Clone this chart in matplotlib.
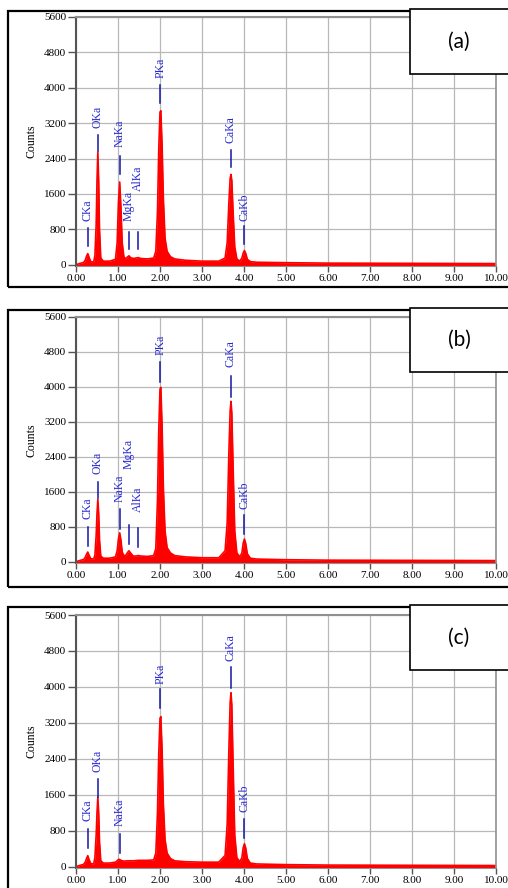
import matplotlib.pyplot as plt
from matplotlib.patches import Rectangle

# energy grid (keV) shared by the three spectra
energy = [0.00, 0.10, 0.18, 0.22, 0.25, 0.28, 0.31, 0.35, 0.42, 0.45,
          0.48, 0.50, 0.52, 0.54, 0.56, 0.59, 0.65, 0.80, 0.94, 0.98,
          1.01, 1.04, 1.07, 1.10, 1.14, 1.18, 1.22, 1.26, 1.30, 1.36,
          1.43, 1.48, 1.54, 1.70, 1.85, 1.90, 1.94, 1.97, 2.00, 2.02,
          2.05, 2.08, 2.12, 2.17, 2.25, 2.35, 2.60, 3.00, 3.40, 3.55,
          3.60, 3.64, 3.67, 3.69, 3.71, 3.74, 3.78, 3.83, 3.90, 3.95,
          3.98, 4.01, 4.04, 4.08, 4.15, 4.30, 5.00, 6.00, 8.00, 10.00]

counts_a = [0, 30, 50, 100, 190, 250, 170, 70, 60, 200,
            900, 1900, 2550, 1900, 800, 150, 80, 80, 120, 500,
            1400, 1870, 1300, 500, 180, 130, 170, 200, 160, 140,
            150, 160, 140, 130, 150, 300, 1200, 2600, 3450, 3480,
            2700, 1500, 600, 300, 180, 130, 100, 80, 80, 150,
            500, 1400, 1950, 2040, 1900, 1200, 400, 130, 80, 150,
            260, 320, 260, 120, 70, 55, 45, 35, 30, 25]

counts_b = [0, 30, 50, 100, 170, 220, 150, 70, 60, 150,
            600, 1100, 1430, 1100, 500, 130, 80, 80, 110, 250,
            520, 660, 500, 220, 140, 140, 200, 250, 200, 130,
            130, 140, 130, 120, 140, 300, 1400, 3000, 3950, 3990,
            3100, 1700, 700, 320, 200, 140, 110, 90, 90, 250,
            900, 2500, 3450, 3670, 3400, 2200, 700, 200, 110, 200,
            420, 520, 420, 180, 80, 60, 45, 35, 30, 25]

counts_c = [0, 30, 50, 100, 180, 245, 160, 70, 60, 200,
            700, 1200, 1550, 1200, 550, 130, 80, 80, 100, 130,
            160, 160, 140, 130, 125, 125, 130, 130, 130, 130,
            135, 140, 140, 140, 150, 300, 1200, 2500, 3300, 3340,
            2600, 1400, 600, 300, 180, 130, 110, 100, 100, 250,
            950, 2600, 3650, 3870, 3600, 2300, 700, 200, 110, 200,
            420, 510, 420, 180, 80, 60, 45, 35, 30, 25]

# peak labels: name, energy, marker bottom, marker top, label start
lines_a = ["CKa", "OKa", "NaKa", "MgKa", "AlKa", "PKa", "CaKa", "CaKb"]
pos_a = [0.28, 0.52, 1.04, 1.26, 1.48, 2.01, 3.69, 4.01]
lo_a = [430, 2560, 2040, 360, 360, 3660, 2200, 470]
hi_a = [830, 2940, 2450, 740, 740, 4070, 2600, 880]
txt_a = [990, 3100, 2650, 990, 1660, 4220, 2760, 990]

lines_b = ["CKa", "OKa", "NaKa", "MgKa", "AlKa", "PKa", "CaKa", "CaKb"]
pos_b = [0.28, 0.52, 1.04, 1.26, 1.48, 2.01, 3.69, 4.01]
lo_b = [365, 1450, 750, 410, 340, 4120, 3780, 640]
hi_b = [800, 1820, 1200, 840, 770, 4560, 4240, 1070]
txt_b = [980, 2000, 1370, 2120, 1140, 4740, 4450, 1200]

lines_c = ["CKa", "OKa", "NaKa", "PKa", "CaKa", "CaKb"]
pos_c = [0.28, 0.52, 1.04, 2.01, 3.69, 4.01]
lo_c = [420, 1550, 310, 3520, 3980, 640]
hi_c = [840, 1950, 730, 3960, 4450, 1060]
txt_c = [1020, 2100, 910, 4060, 4570, 1220]

x_ticks = [0, 1, 2, 3, 4, 5, 6, 7, 8, 9, 10]
y_ticks = [0, 800, 1600, 2400, 3200, 4000, 4800, 5600]

W, H = 508, 888
fig = plt.figure(figsize=(W / 100, H / 100), dpi=100)
fig.patch.set_facecolor("white")

serif = "Liberation Serif"

panels = [
    ("(a)", counts_a, lines_a, pos_a, lo_a, hi_a, txt_a, (17, 266), (11, 287), (9, 74)),
    ("(b)", counts_b, lines_b, pos_b, lo_b, hi_b, txt_b, (317, 563), (310, 587), (308, 372)),
    ("(c)", counts_c, lines_c, pos_c, lo_c, hi_c, txt_c, (615, 868), (607, 900), (605, 670)),
]

for tag, counts, names, pos, lo, hi, txt, (ytop, ybot), (btop, bbot), (ltop, lbot) in panels:
    ax = fig.add_axes([76 / W, 1 - ybot / H, 420 / W, (ybot - ytop) / H])

    ax.fill_between(energy, counts, -40, color="red", lw=0)
    ax.plot(energy, counts, color="red", lw=1.2)

    for name, e, a, b, t in zip(names, pos, lo, hi, txt):
        ax.plot([e, e], [a, b], color="#1515a5", lw=1.1)
        ax.text(e, t, name, rotation=90, ha="center", va="bottom",
                color="#2a2ad0", fontsize=8.5, family=serif)

    ax.set_xlim(0, 10)
    ax.set_ylim(-30, 5600)
    ax.set_xticks(x_ticks)
    ax.set_xticklabels(["%.2f" % v for v in x_ticks])
    ax.set_yticks(y_ticks)
    ax.set_yticklabels([str(v) for v in y_ticks])
    ax.tick_params(axis="y", length=6, width=1, color="#555555", pad=1, labelsize=8)
    ax.tick_params(axis="x", length=4, width=1, color="#555555", pad=2, labelsize=8)
    for lab in ax.get_xticklabels() + ax.get_yticklabels():
        lab.set_family(serif)
    ax.set_ylabel("Counts", family=serif, fontsize=8.5, labelpad=5)

    ax.grid(True, color="#b8b8b8", lw=0.9)
    ax.set_axisbelow(True)
    ax.spines["left"].set_color("#555555")
    ax.spines["left"].set_linewidth(1.5)
    ax.spines["top"].set_color("#909090")
    ax.spines["top"].set_linewidth(1.5)
    ax.spines["right"].set_color("#909090")
    ax.spines["right"].set_linewidth(1.2)
    ax.spines["bottom"].set_color("#909090")

    # black frame round the panel
    fig.add_artist(Rectangle((8 / W, 1 - bbot / H), 510 / W, (bbot - btop) / H,
                             transform=fig.transFigure, fill=False,
                             ec="black", lw=1.6, clip_on=False))
    # tag box in the upper right
    fig.add_artist(Rectangle((410 / W, 1 - lbot / H), 110 / W, (lbot - ltop) / H,
                             transform=fig.transFigure, fc="white",
                             ec="black", lw=1.2, clip_on=False))
    fig.text(459 / W, 1 - (ltop + lbot) / 2 / H, tag, ha="center", va="center",
             fontsize=15, family="Lato")

fig.savefig("out.png", dpi=100)
